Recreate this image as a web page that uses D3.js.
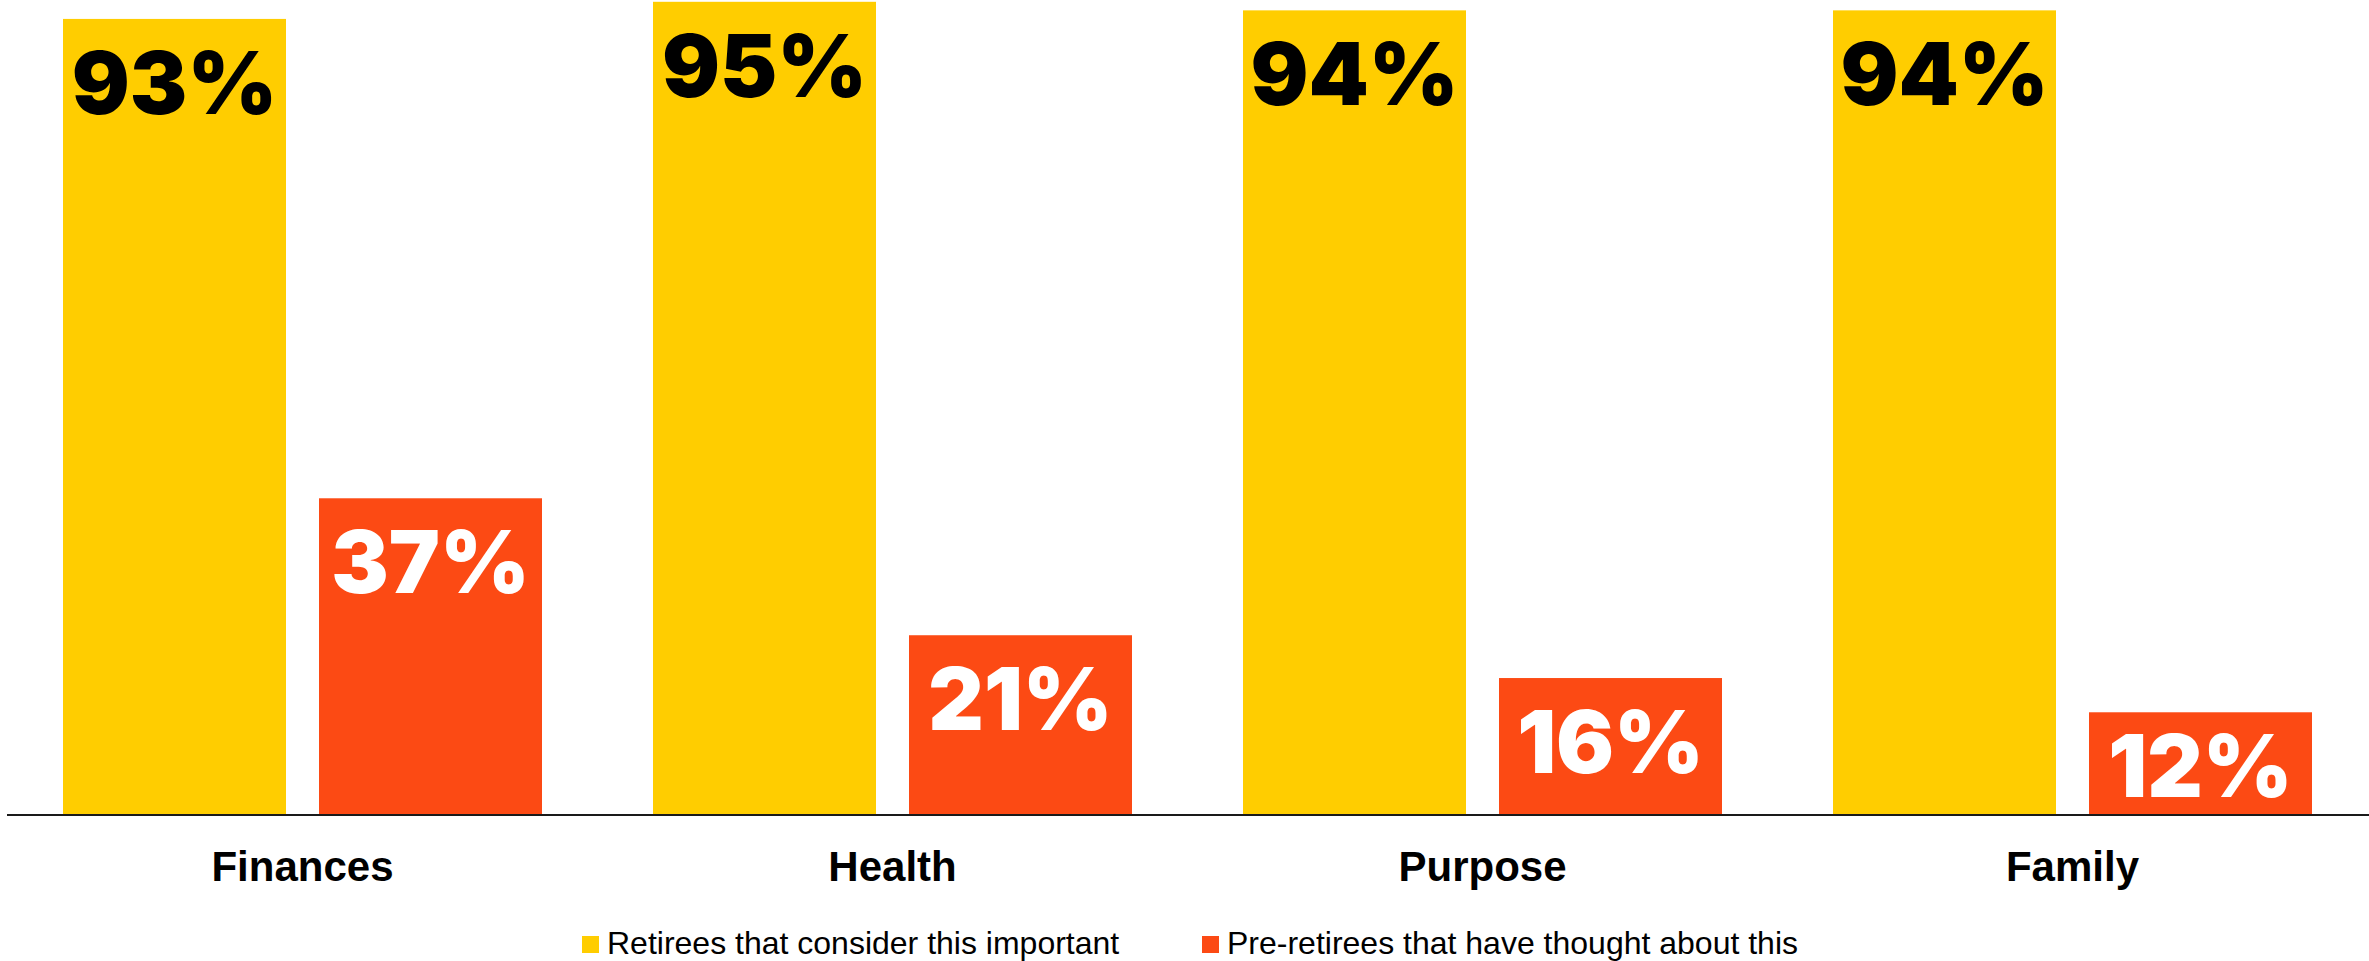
<!DOCTYPE html>
<html>
<head>
<meta charset="utf-8">
<script src="https://cdn.jsdelivr.net/npm/d3@7"></script>
<style>
  html, body { margin: 0; padding: 0; background: #ffffff; }
  svg { display: block; }
</style>
</head>
<body>
<svg id="chart" width="2369" height="961"></svg>
<script>
// Survey topics and the two groups compared for each
const categories = ["Finances", "Health", "Purpose", "Family"];
const seriesNames = [
  "Retirees that consider this important",
  "Pre-retirees that have thought about this"
];
const retirees = [93, 95, 94, 94];
const preRetirees = [37, 21, 16, 12];
const seriesColors = ["#FFCD00", "#FC4A14"];
const labelColors = ["#000000", "#ffffff"];

const width = 2369, height = 961;
const baseY = 815;

const rows = categories.map((c, i) => ({
  category: c,
  values: [retirees[i], preRetirees[i]]
}));

const svg = d3.select("#chart");

const x0 = d3.scaleBand()
  .domain(categories)
  .range([7.5, 2367.5])
  .padding(0);

const x1 = d3.scaleBand()
  .domain(d3.range(seriesNames.length))
  .range([0, x0.bandwidth()])
  .paddingInner(33 / 256)
  .paddingOuter(55.5 / 256);

const y = d3.scaleLinear()
  .domain([0, 100])
  .range([baseY, baseY - 856]);

// Grouped bars
const groups = svg.append("g")
  .selectAll("g")
  .data(rows)
  .join("g")
  .attr("transform", d => `translate(${x0(d.category)},0)`);

groups.selectAll("rect")
  .data(d => d.values.map((v, s) => ({ v, s })))
  .join("rect")
  .attr("x", d => x1(d.s))
  .attr("y", d => y(d.v))
  .attr("width", x1.bandwidth())
  .attr("height", d => y(0) - y(d.v))
  .attr("fill", d => seriesColors[d.s]);

// Value labels inside the top of each bar
groups.selectAll("text")
  .data(d => d.values.map((v, s) => ({ v, s })))
  .join("text")
  .attr("x", d => x1(d.s) + x1.bandwidth() / 2)
  .attr("y", d => Math.min(y(d.v) + 95, y(0) - 18))
  .attr("text-anchor", "middle")
  .attr("font-family", "Inter, 'Noto Sans', sans-serif")
  .attr("font-weight", 900)
  .attr("font-size", 86)
  .attr("fill", d => labelColors[d.s])
  .text(d => d.v + "%");

// Baseline
svg.append("line")
  .attr("x1", 7).attr("x2", width)
  .attr("y1", baseY).attr("y2", baseY)
  .attr("stroke", "#1a1a1a")
  .attr("stroke-width", 2);

// Category axis labels
const xAxis = d3.axisBottom(x0).tickSize(0).tickPadding(0);
const axisG = svg.append("g")
  .attr("transform", `translate(0,${baseY})`)
  .call(xAxis);
axisG.select(".domain").remove();
axisG.selectAll("text")
  .attr("y", 66)
  .attr("dy", null)
  .attr("font-family", "'Liberation Sans', Arial, sans-serif")
  .attr("font-weight", "bold")
  .attr("font-size", 42)
  .attr("fill", "#000");

// Legend
const legendX = [582, 1202];
const legend = svg.append("g")
  .selectAll("g")
  .data(seriesNames)
  .join("g")
  .attr("transform", (d, i) => `translate(${legendX[i]},936)`);

legend.append("rect")
  .attr("width", 17)
  .attr("height", 17)
  .attr("fill", (d, i) => seriesColors[i]);

legend.append("text")
  .attr("x", 25)
  .attr("y", 18)
  .attr("font-family", "'Liberation Sans', Arial, sans-serif")
  .attr("font-size", 32)
  .attr("fill", "#000")
  .text(d => d);
</script>
</body>
</html>
